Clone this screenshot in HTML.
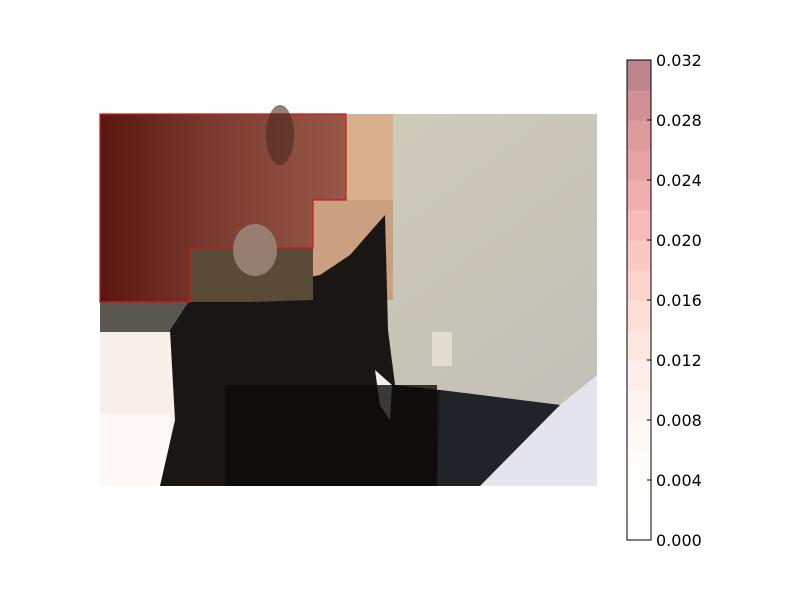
<!DOCTYPE html>
<html><head><meta charset="utf-8"><style>
html,body{margin:0;padding:0;background:#fff;}
svg text{font-family:"DejaVu Sans","Liberation Sans",sans-serif;font-size:16px;fill:#000;}
</style></head><body>
<svg id="chart" width="800" height="600">
<defs>
<linearGradient id="redg" x1="0" x2="1" y1="0" y2="0">
<stop offset="0" stop-color="#5a1610"/><stop offset="0.45" stop-color="#7a3a30"/><stop offset="1" stop-color="#985848"/>
</linearGradient>
<linearGradient id="wallg" x1="0" x2="1" y1="0" y2="1">
<stop offset="0" stop-color="#d4d0bc"/><stop offset="1" stop-color="#bfbdb6"/>
</linearGradient>
</defs>
<g>
<rect x="100" y="114" width="497" height="372" fill="url(#wallg)"/>
<rect x="346" y="114" width="47" height="86" fill="#d8b08e"/>
<rect x="313" y="200" width="80" height="100" fill="#caa080"/>
<rect x="100" y="302" width="90" height="184" fill="#f8eeea"/>
<rect x="100" y="302" width="90" height="30" fill="#5a5650"/>
<rect x="100" y="414" width="70" height="72" fill="#fdf8f5"/>
<path d="M190 300 L320 275 L350 255 L385 215 L388 330 L395 385 L440 390 L560 405 L597 385 L597 486 L160 486 L175 420 L170 330 Z" fill="#1a1614"/>
<path d="M440 390 L560 405 L520 486 L437 486 Z" fill="#222229"/>
<path d="M480 486 L560 405 L597 375 L597 486 Z" fill="#e4e4ec"/>
<path d="M375 370 L392 385 L390 420 L380 405 Z" fill="#f0eeee"/>
<rect x="225" y="385" width="212" height="101" fill="#0c0b09" opacity="0.8"/>
<path d="M190 248 L313 248 L313 300 L250 302 L190 302 Z" fill="#5a4a38"/>
<path d="M100 114 L346 114 L346 200 L313 200 L313 248 L190 248 L190 302 L100 302 Z" fill="url(#redg)" stroke="#cc1a1a" stroke-width="1.2"/>
<ellipse cx="280" cy="135" rx="14" ry="30" fill="#4a2a20" opacity="0.6"/>
<ellipse cx="255" cy="250" rx="22" ry="26" fill="#9a8478" opacity="0.9"/>
<rect x="432" y="332" width="20" height="34" fill="#e0dcd0"/>
</g>
<g id="cbar"></g>
</svg>
<script>
const tickValues=[0,0.004,0.008,0.012,0.016,0.020,0.024,0.028,0.032];
const tickLabels=["0.000","0.004","0.008","0.012","0.016","0.020","0.024","0.028","0.032"];
const levels=[0,0.002,0.004,0.006,0.008,0.010,0.012,0.014,0.016,0.018,0.020,0.022,0.024,0.026,0.028,0.030,0.032];
const NS="http://www.w3.org/2000/svg";
const cb=document.getElementById('cbar');
const cbX=627,cbW=24,cbTop=60,cbBot=540,vmax=0.032;
function yScale(v){return cbBot-(v/vmax)*(cbBot-cbTop);}
const reds=[[255,245,240],[254,224,210],[252,187,161],[252,146,114],[251,106,74],[239,59,44],[203,24,29],[165,15,21],[103,0,13]];
function color(t){const p=t*(reds.length-1);const i=Math.min(Math.floor(p),reds.length-2);const f=p-i;
const c=reds[i].map((a,k)=>a+(reds[i+1][k]-a)*f);const al=0.5*t;
return 'rgb('+c.map(x=>Math.round(255*(1-al)+x*al)).join(',')+')';}
for(let i=0;i<levels.length-1;i++){
const r=document.createElementNS(NS,'rect');


const y1=yScale(levels[i+1]),y2=yScale(levels[i]);
r.setAttribute('x',cbX);r.setAttribute('y',y1);r.setAttribute('width',cbW);r.setAttribute('height',y2-y1+0.5);
r.setAttribute('fill',color(((levels[i]+levels[i+1])/2)/vmax));cb.appendChild(r);}
const fr=document.createElementNS(NS,'rect');


fr.setAttribute('x',cbX);fr.setAttribute('y',cbTop);fr.setAttribute('width',cbW);fr.setAttribute('height',cbBot-cbTop);
fr.setAttribute('fill','none');fr.setAttribute('stroke','#000');cb.appendChild(fr);
tickValues.forEach((v,i)=>{const y=yScale(v);
const l=document.createElementNS(NS,'line');


l.setAttribute('x1',cbX+cbW-4);l.setAttribute('x2',cbX+cbW);l.setAttribute('y1',y);l.setAttribute('y2',y);l.setAttribute('stroke','#000');cb.appendChild(l);
const t=document.createElementNS(NS,'text');


t.setAttribute('x',cbX+cbW+5);t.setAttribute('y',y+6);t.textContent=tickLabels[i];cb.appendChild(t);});
</script>
</body></html>
